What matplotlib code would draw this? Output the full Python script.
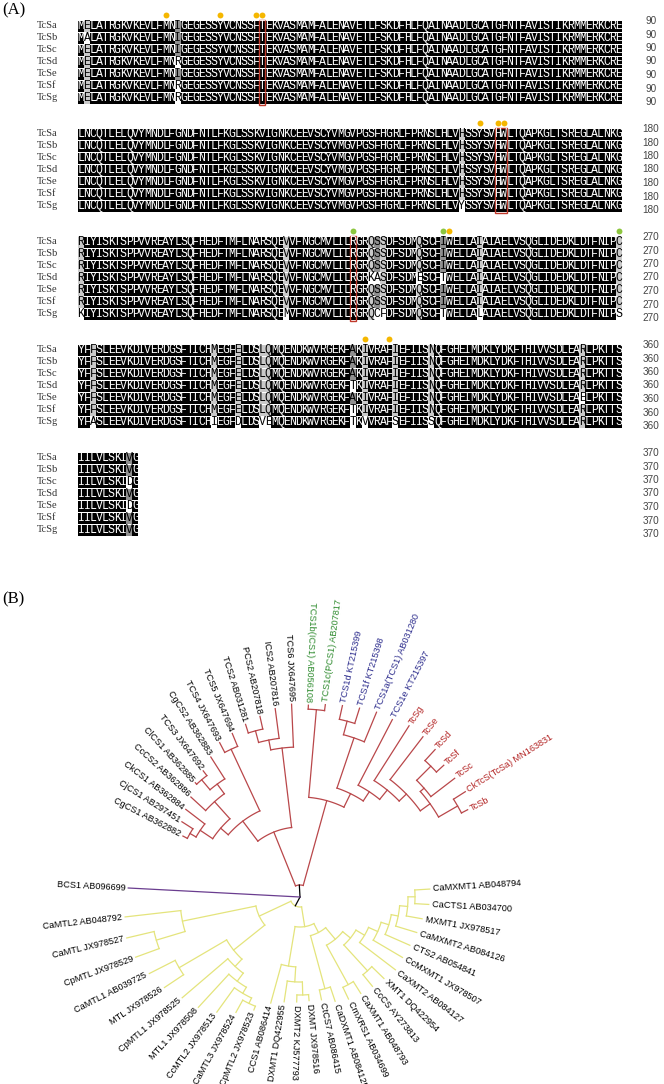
import numpy as np
import matplotlib.pyplot as plt
from matplotlib.patches import Rectangle
from collections import Counter

# ---------------- (A) alignment data ----------------
names = ["TcSa", "TcSb", "TcSc", "TcSd", "TcSe", "TcSf", "TcSg"]
end_numbers = [90, 180, 270, 360, 370]

block1 = [
    "MELATRGKVKEVLFMNIGEGESSYVCNSSFTEKVASMAMFALENAVETLFSKDFHLFQAINAADLGCATGFNTFAVISTIKRMMERKCRE",
    "MALATRGKVKEVLFMNIGEGESSYVCNSSFTEKVASMAMFALENAVETLFSKDFHLFQAINAADLGCATGFNTFAVISTIKRMMERKCRE",
    "MELATRGKVKEVLFMNIGEGESSYVCNSSFTEKVASMAMFALENAVETLFSKDFHLFQAINAADLGCATGFNTFAVISTIKRMMERKCRE",
    "MELATRGKVKEVLFMNRGEGESSYVCNSSFTEKVASMAMFALENAVETLFSKDFHLFQAINAADLGCATGFNTFAVISTIKRMMERKCRE",
    "MELATRGKVKEVLFMNIGEGESSYVCNSSFTEKVASMAMFALENAVETLFSKDFHLFQAINAADLGCATGFNTFAVISTIKRMMERKCRE",
    "MELATRGKVKEVLFMNRGEGESSYVCNSSFTEKVASMAMFALENAVETLFSKDFHLFQAINAADLGCATGFNTFAVISTIKRMMERKCRE",
    "MELATRGKVKEVLFMNRGEGESSYVCNSSFTEKVASMAMFALENAVETLFSKDFHLFQAINAADLGCATGFNTFAVISTIKRMMERKCRE",
]
block2 = [
    "LNCQTLELQVYMNDLFGNDFNTLFKGLSSKVIGNKCEEVSCYVMGVPGSFHGRLFPRNSLHLVHSSYSVHWLTQAPKGLTSREGLALNKG",
    "LNCQTLELQVYMNDLFGNDFNTLFKGLSSKVIGNKCEEVSCYVMGVPGSFHGRLFPRNSLHLVHSSYSVHWLTQAPKGLTSREGLALNKG",
    "LNCQTLELQVYMNDLFGNDFNTLFKGLSSKVIGNKCEEVSCYVMGVPGSFHGRLFPRNSLHLVHSSYSVHWLTQAPKGLTSREGLALNKG",
    "LNCQTLELQVYMNDLFGNDFNTLFKGLSSKVIGNKCEEVSCYVMGVPGSFHGRLFPRNSLHLVHSSYSVHWLTQAPKGLTSREGLALNKG",
    "LNCQTLELQVYMNDLFGNDFNTLFKGLSSKVIGNKCEEVSCYVMGVPGSFHGRLFPRNSLHLVHSSYSVHWLTQAPKGLTSREGLALNKG",
    "LNCQTLELQVYMNDLFGNDFNTLFKGLSSKVIGNKCEEVSCYVMGVPGSFHGRLFPRNSLHLVHSSYSVHWLTQAPKGLTSREGLALNKG",
    "LNCQTLELQVYMNDLFGNDFNTLFKGLSSKVIGNKCEEVSCYVMGVPGSFHGRLFPRNSLHLVYSSYSVHWLTQAPKGLTSREGLALNKG",
]
block3 = [
    "RIYISKTSPPVVREAYLSQFHEDFTMFLNARSQEVVFNGCMVLILRGRQSSDFSDMQSCFIWELLAIAIAELVSQGLIDEDKLDTFNIPC",
    "RIYISKTSPPVVREAYLSQFHEDFTMFLNARSQEVVFNGCMVLILRGRQSSDFSDMQSCFIWELLAIAIAELVSQGLIDEDKLDTFNIPC",
    "RIYISKTSPPVVREAYLSQFHEDFTMFLNARSQEVVFNGCMVLILRGRQSSDFSDMQSCFIWELLAIAIAELVSQGLIDEDKLDTFNIPC",
    "RIYISKTSPPVVREAYLSQFHEDFTMFLNARSQEVVFNGCMVLILRGRKASDFSDMESCFTWELLAIAIAELVSQGLIDEDKLDTFNIPC",
    "RIYISKTSPPVVREAYLSQFHEDFTMFLNARSQEVVFNGCMVLILRGRQSSDFSDMQSCFIWELLAIAIAELVSQGLIDEDKLDTFNIPC",
    "RIYISKTSPPVVREAYLSQFHEDFTMFLNARSQEVVFNGCMVLILRGRQSSDFSDMQSCFIWELLAIAIAELVSQGLIDEDKLDTFNIPC",
    "KIYISKTSPPVVREAYLSQFHEDFTMFLNARSQEMVFNGCMVLILRGRQCFDFSDMQSCFTWELLALAIAELVSQGLIDEDKLDTFNIPS",
]
block4 = [
    "YFFSLEEVKDIVERDGSFTICHMEGFELDSLQMQENDKWVRGEKFAKIVRAFIEFIISNQFGHEIMDKLYDKFTHIVVSDLEARLPKTTS",
    "YFFSLEEVKDIVERDGSFTICHMEGFELDSLQMQENDKWVRGEKFAKIVRAFIEFIISNQFGHEIMDKLYDKFTHIVVSDLEARLPKTTS",
    "YFFSLEEVKDIVERDGSFTICHMEGFELDSLQMQENDKWVRGEKFAKIVRAFIEFIISNQFGHEIMDKLYDKFTHIVVSDLEARLPKTTS",
    "YFFSLEEVKDIVERDGSFTICHMEGFELDSLQMQENDKWVRGEKFTKIVRAFIEFIISNQFGHEIMDKLYDKFTHIVVSDLEARLPKTTS",
    "YFFSLEEVKDIVERDGSFTICHMEGFELDSLQMQENDKWVRGEKFAKIVRAFIEFIISNQFGHEIMDKLYDKFTHIVVSDLEAELPKTTS",
    "YFFSLEEVKDIVERDGSFTICHMEGFELDSLQMQENDKWVRGEKFTKIVRAFIEFIISNQFGHEIMDKLYDKFTHIVVSDLEARLPKTTS",
    "YFASLEEVKDIVERDGSFTICHIEGFDLDSVEMQENDKWVRGEKFTKVVRAFSEFIISSQFGHEIMDKLYDKFTHIVVSDLEARLPKTTS",
]
block5 = ["IILVLSKIVG", "IILVLSKIVG", "IILVLSKIDG", "IILVLSKIVG",
          "IILVLSKIDG", "IILVLSKIVG", "IILVLSKIVG"]
blocks = [block1, block2, block3, block4, block5]

# marked sites (column index inside block, dot colour) and boxed columns
site_dots = [
    [(14, "gold"), (23, "gold"), (29, "gold"), (30, "gold")],
    [(66, "gold"), (69, "gold"), (70, "gold")],
    [(45, "green"), (60, "green"), (61, "gold"), (89, "green")],
    [(47, "gold"), (51, "gold")],
    [],
]
boxed_cols = [[(30, 30)], [(69, 70)], [(45, 45)], [], []]

# ---------------- (B) tree data ----------------
# internal node: (radius, [children]); leaf: (label, tip radius)
red_tree = (12, [
    (70, [
        (95, [
            (105, [
                (120, [(127, [("CgCS1 AB362882", 132), ("CjCS1 AB297451", 140)]),
                       ("CkCS1 AB362884", 144)]),
                (128, [("CcCS2 AB362886", 148),
                       (140, [(153, [("ClCS1 AB362885", 155), ("TCS3 JX647692", 159)]),
                              ("CgCS2 AB362883", 166)])]),
            ]),
            (163, [("TCS4 JX647693", 174), ("TCS5 JX647694", 177)]),
        ]),
        (150, [(160, [(172, [("TCS2 AB031281", 181), ("PCS2 AB207818", 185)]),
                      ("ICS2 AB207816", 190)]),
               ("TCS6 JX647695", 193)]),
    ]),
    (100, [
        (188, [("TCS1b(ICS1) AB056108", 192), ("TCS1c(PCS1) AB207817", 194)]),
        (115, [
            (168, [(182, [("TCS1d KT215399", 196), ("TCS1f KT215398", 198)]),
                   ("TCS1a(TCS1) AB031280", 200)]),
            (126, [("TCS1e KT215397", 200),
                   (138, [("TcSg", 203),
                          (148, [("TcSe", 202),
                                 (160, [(165, [(185, [("TcSd", 200), ("TcSf", 195)]),
                                               ("TcSc", 195)]),
                                        (182, [("CkTcS(TcSa) MN163831", 196), ("TcSb", 189)])])])])]),
        ]),
    ]),
])

yellow_tree = (10, [
    (45, [
        (120, [("CaMTL2 AB048792", 176),
               (150, [("CaMTL JX978527", 178), ("CpMTL JX978529", 175)])]),
        (85, [
            (140, [("CaMTL1 AB039725", 169), ("MTL JX978526", 163)]),
            (95, [("CpMTL1 JX978525", 155),
                  (105, [("MTL1 JX978508", 150),
                         (112, [("CcMTL2 JX978513", 142),
                                (118, [("CaMTL3 JX978524", 132), ("CpMTL2 JX978523", 122)])])])]),
        ]),
    ]),
    (30, [
        (70, [("CCS1 AB086414", 110),
              (85, [("DXMT1 DQ422955", 106),
                    (98, [("DXMT2 KJ577793", 105), ("DXMT JX978516", 104)])])]),
        (40, [
            (95, [("CtCS7 AB086415", 105), ("CaDXMT1 AB084125", 110)]),
            (55, [
                (100, [("CmXRS1 AB034699", 113), ("CaXMT1 AB048793", 114)]),
                (65, [
                    (100, [("CcCS AY273813", 115), ("XMT1 DQ422954", 117)]),
                    (75, [("CaXMT2 AB084127", 120),
                          (85, [("CcMXMT1 JX978507", 119),
                                (93, [("CTS2 AB054841", 120),
                                      (100, [("CaMXMT2 AB084126", 122),
                                             (108, [("MXMT1 JX978517", 124),
                                                    (115, [("CaCTS1 AB034700", 129),
                                                           ("CaMXMT1 AB048794", 130)])])])])])]),
                ]),
            ]),
        ]),
    ]),
])

outgroup = ("BCS1 AB096699", 172)

green_labels = ["TCS1b(ICS1) AB056108", "TCS1c(PCS1) AB207817"]
blue_labels = ["TCS1d KT215399", "TCS1f KT215398", "TCS1a(TCS1) AB031280", "TCS1e KT215397"]
red_labels = ["TcSg", "TcSe", "TcSd", "TcSf", "TcSc", "CkTcS(TcSa) MN163831", "TcSb"]

# ---------------- drawing ----------------
W, H = 664, 1084
fig = plt.figure(figsize=(W / 100, H / 100), dpi=100)
ax = fig.add_axes([0, 0, 1, 1])
ax.set_xlim(0, W)
ax.set_ylim(H, 0)
ax.axis("off")

x0, cw = 78, 6.04
row_pitch = 12
block_top = [26, 134, 242, 350, 458]
dot_col = {"gold": "#f5b700", "green": "#8dc63f"}

ax.text(2, 10, "(A)", fontsize=12, family="Liberation Serif", va="center")

for b, block in enumerate(blocks):
    y0 = block_top[b]
    ncol = len(block[0])
    for i, name in enumerate(names):
        y = y0 + i * row_pitch
        ax.text(37, y, name, fontsize=7.5, family="Liberation Serif", color="#333333", va="center")
        ax.add_patch(Rectangle((x0, y - 5.5), ncol * cw, 11, color="black", lw=0))
        ax.text(651, y0 - 5 + i * 13.5, str(end_numbers[b]), fontsize=7.2, ha="center",
                va="center", color="#444444", family="Liberation Sans")
    for c in range(ncol):
        col = [s[c] for s in block]
        top, m = Counter(col).most_common(1)[0]
        for i, aa in enumerate(col):
            y = y0 + i * row_pitch
            fg = "white"
            if m < len(col):
                if aa == top:
                    bg = "#c9c9c9" if m / len(col) >= 0.75 else "#8f8f8f"
                else:
                    bg = "white"
                fg = "black"
                ax.add_patch(Rectangle((x0 + c * cw, y - 5.5), cw, 11, color=bg, lw=0))
            ax.text(x0 + (c + 0.5) * cw, y + 0.4, aa, fontsize=8.3, family="Liberation Mono",
                    color=fg, ha="center", va="center")
    for c, colr in site_dots[b]:
        ax.scatter(x0 + (c + 0.5) * cw, y0 - 11, s=18, color=dot_col[colr], lw=0)
    for c0, c1 in boxed_cols[b]:
        ax.add_patch(Rectangle((x0 + c0 * cw, y0 - 6.5), (c1 - c0 + 1) * cw,
                               6 * row_pitch + 13, fill=False, ec="#c0392b", lw=1))

ax.text(2, 599, "(B)", fontsize=12, family="Liberation Serif", va="center")

# polar axes for the tree, centred at the root
cx, cy, R = 300, 897, 230
pax = fig.add_axes([(cx - R) / W, 1 - (cy + R) / H, 2 * R / W, 2 * R / H], projection="polar")
pax.set_rlim(0, R)
pax.axis("off")
pax.patch.set_alpha(0)

lw = 0.9


def draw_clade(node, parent_r, angles, color, leaves, stem_color=None):
    if isinstance(node[0], str):
        th = np.deg2rad(next(angles))
        r = node[1]
        leaves.append((node[0], th, r))
    else:
        r = node[0]
        ths = [draw_clade(ch, r, angles, color, leaves) for ch in node[1]]
        arc = np.linspace(min(ths), max(ths), 40)
        pax.plot(arc, np.full_like(arc, r), color=color, lw=lw)
        th = (min(ths) + max(ths)) / 2
    pax.plot([th, th], [parent_r, r], color=stem_color or color, lw=lw)
    return th


leaves = []
red_angles = iter(np.linspace(152.5, 27.5, 26))
yellow_angles = iter(np.linspace(186.5, 363.5, 27))
draw_clade(red_tree, 0, red_angles, "#b9474a", leaves, stem_color="black")
draw_clade(yellow_tree, 0, yellow_angles, "#e4e47c", leaves, stem_color="black")
draw_clade(outgroup, 0, iter([177]), "#6a3d8f", leaves)

for label, th, r in leaves:
    deg = np.rad2deg(th) % 360
    if 85 < deg < 265:
        rot, ha = deg - 180, "right"
    else:
        rot, ha = (deg if deg < 180 else deg - 360), "left"
    c = "black"
    if label in green_labels:
        c = "#2e8b2e"
    elif label in blue_labels:
        c = "#2b2b8c"
    elif label in red_labels:
        c = "#b22222"
    pax.text(th, r + 3, label, rotation=rot, rotation_mode="anchor", ha=ha, va="center",
             fontsize=6.6, color=c, family="Liberation Sans", clip_on=False)

fig.savefig("out.png", dpi=100)
